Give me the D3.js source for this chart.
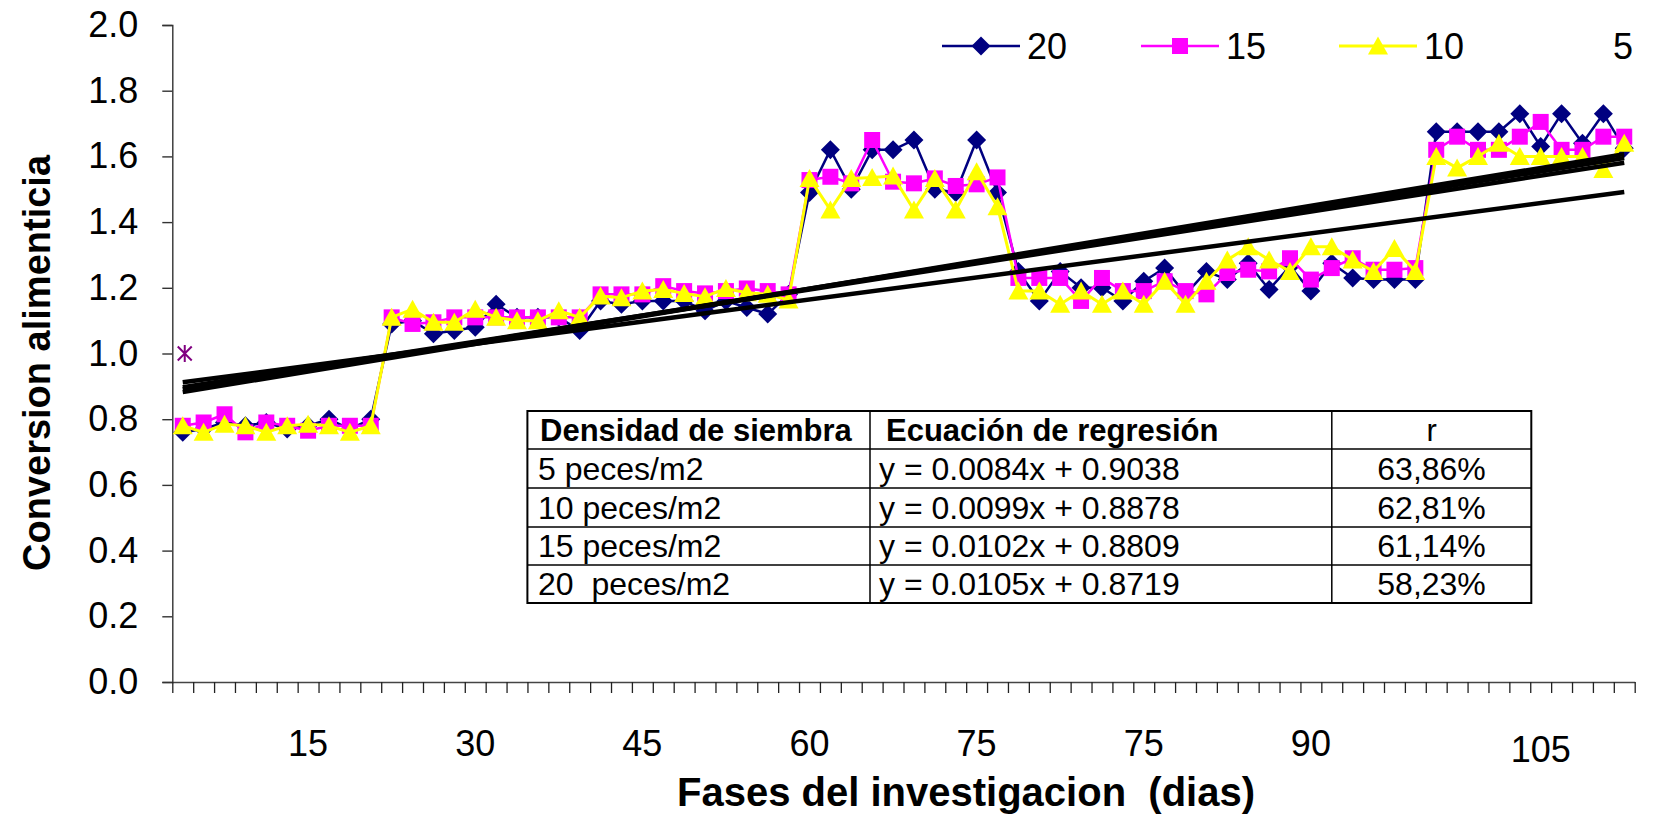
<!DOCTYPE html>
<html>
<head>
<meta charset="utf-8">
<script src="https://cdn.jsdelivr.net/npm/d3@7"></script>
<style>
  html, body { margin: 0; padding: 0; background: #fff; }
  svg { display: block; font-family: "Liberation Sans", Arial, sans-serif; }
  svg text { white-space: pre; }
</style>
</head>
<body>
<svg id="chart" width="1664" height="818"></svg>
<script>
// ---------------- DATA ----------------
const categories = d3.range(1, 71); // 70 measurement points

const seriesNames = ["20", "15", "10", "5"];

const s20 = [
  0.76, 0.77, 0.79, 0.78, 0.79, 0.77, 0.78, 0.80, 0.77, 0.80,
  1.09, 1.10, 1.06, 1.07, 1.08, 1.15, 1.11, 1.11, 1.11, 1.07,
  1.16, 1.15, 1.16, 1.16, 1.16, 1.13, 1.16, 1.14, 1.12, 1.18,
  1.49, 1.62, 1.50, 1.62, 1.62, 1.65, 1.50, 1.49, 1.65, 1.49,
  1.25, 1.16, 1.25, 1.20, 1.20, 1.16, 1.22, 1.26, 1.18, 1.25,
  1.225, 1.275, 1.195, 1.265, 1.19, 1.275, 1.23, 1.225, 1.225, 1.225,
  1.675, 1.675, 1.675, 1.675, 1.73, 1.63, 1.73, 1.64, 1.73, 1.625
];
const s15 = [
  0.78, 0.79, 0.815, 0.76, 0.79, 0.78, 0.765, 0.78, 0.78, 0.78,
  1.11, 1.09, 1.095, 1.11, 1.11, 1.11, 1.11, 1.11, 1.11, 1.11,
  1.18, 1.18, 1.18, 1.205, 1.19, 1.183, 1.19, 1.198, 1.19, 1.18,
  1.528, 1.538, 1.518, 1.65, 1.523, 1.518, 1.533, 1.51, 1.515, 1.536,
  1.23, 1.23, 1.23, 1.16, 1.23, 1.19, 1.19, 1.22, 1.19, 1.18,
  1.245, 1.255, 1.25, 1.29, 1.225, 1.26, 1.29, 1.255, 1.255, 1.26,
  1.62, 1.66, 1.62, 1.62, 1.66, 1.705, 1.62, 1.62, 1.66, 1.66
];
const s10 = [
  0.78, 0.76, 0.785, 0.78, 0.76, 0.78, 0.785, 0.78, 0.76, 0.78,
  1.11, 1.135, 1.095, 1.095, 1.135, 1.11, 1.10, 1.10, 1.13, 1.11,
  1.175, 1.17, 1.19, 1.195, 1.183, 1.173, 1.198, 1.185, 1.18, 1.163,
  1.533, 1.437, 1.533, 1.536, 1.54, 1.437, 1.533, 1.437, 1.553, 1.447,
  1.19, 1.19, 1.15, 1.19, 1.15, 1.19, 1.15, 1.22, 1.15, 1.22,
  1.285, 1.325, 1.285, 1.25, 1.325, 1.325, 1.285, 1.25, 1.32, 1.25,
  1.60, 1.565, 1.60, 1.64, 1.60, 1.60, 1.60, 1.60, 1.56, 1.64
];
const s5Cats = [1];
const s5 = [1.0];

// regression (x = category index)
const regSlopes = [0.0084, 0.0099, 0.0102, 0.0105];
const regIntercepts = [0.9038, 0.8878, 0.8809, 0.8719];

const yTicks = [0, 0.2, 0.4, 0.6, 0.8, 1.0, 1.2, 1.4, 1.6, 1.8, 2.0];
const xLabels = ["15", "30", "45", "60", "75", "75", "90", "105"];
const xLabelCats = [7, 15, 23, 31, 39, 47, 55, 66];

const yTitle = "Conversion alimenticia";
const xTitle = "Fases del investigacion  (dias)";

const tableHeader = ["Densidad de siembra", "Ecuación de regresión", "r"];
const tableDensity = ["5 peces/m2", "10 peces/m2", "15 peces/m2", "20  peces/m2"];
const tableEquation = ["y = 0.0084x + 0.9038", "y = 0.0099x + 0.8878", "y = 0.0102x + 0.8809", "y = 0.0105x + 0.8719"];
const tableR = ["63,86%", "62,81%", "61,14%", "58,23%"];

// ---------------- LAYOUT ----------------
const svg = d3.select("#chart");
const FONT = '"Liberation Sans", Arial, sans-serif';
const plot = { left: 172.3, right: 1634.7, top: 25, bottom: 682 };

const x = d3.scaleLinear().domain([0.5, 70.5]).range([plot.left, plot.right]);
const y = d3.scaleLinear().domain([0, 2]).range([plot.bottom, plot.top]);

// Y axis
const yAxis = d3.axisLeft(y).tickValues(yTicks).tickFormat(d3.format(".1f")).tickSize(10).tickPadding(24);
const gy = svg.append("g").attr("transform", `translate(${plot.left},0)`).call(yAxis);
gy.select(".domain").attr("stroke", "#333").attr("stroke-width", 1.4);
gy.selectAll(".tick line").attr("stroke", "#333").attr("stroke-width", 1.4);
gy.selectAll(".tick text").attr("font-size", 36).attr("font-family", FONT).attr("fill", "#000");

// X axis (category ticks)
const xAxis = d3.axisBottom(x).tickValues(d3.range(0.5, 71, 1)).tickFormat("").tickSize(11).tickSizeOuter(0);
const gx = svg.append("g").attr("transform", `translate(0,${plot.bottom})`).call(xAxis);
gx.select(".domain").attr("stroke", "#444").attr("stroke-width", 1.6);
gx.selectAll(".tick line").attr("stroke", "#222").attr("stroke-width", 1.3);

// X labels (manual text labels)
svg.append("g").selectAll("text").data(xLabels).join("text")
  .attr("x", (d, i) => x(xLabelCats[i]))
  .attr("y", (d, i) => i === xLabels.length - 1 ? 762 : 756)
  .attr("text-anchor", "middle")
  .attr("font-size", 36).attr("font-family", FONT)
  .text(d => d);

// Axis titles
svg.append("text")
  .attr("transform", "translate(37,363) rotate(-90)")
  .attr("text-anchor", "middle").attr("dominant-baseline", "central")
  .attr("font-size", 38).attr("font-weight", "bold").attr("font-family", FONT)
  .text(yTitle);
svg.append("text")
  .attr("x", 966).attr("y", 792)
  .attr("text-anchor", "middle").attr("dominant-baseline", "central")
  .attr("font-size", 40).attr("font-weight", "bold").attr("font-family", FONT)
  .text(xTitle);

// ---------------- SERIES ----------------
const diamondPath = "M0,-9.5L9.5,0L0,9.5L-9.5,0Z";
const squarePath = "M-8,-8H8V8H-8Z";
const trianglePath = "M0,-9.5L10,8.5L-10,8.5Z";
const asteriskPath = "M0,-8.5V8.5M-7,-7L7,7M-7,7L7,-7";

const series = [
  { name: seriesNames[0], values: s20, color: "#000080", lw: 2.5, marker: diamondPath },
  { name: seriesNames[1], values: s15, color: "#FF00FF", lw: 2.5, marker: squarePath },
  { name: seriesNames[2], values: s10, color: "#FFFF00", lw: 3, marker: trianglePath }
];

const line = d3.line().x((d, i) => x(categories[i])).y(d => y(d));

series.forEach(s => {
  const g = svg.append("g");
  g.append("path").datum(s.values)
    .attr("d", line).attr("fill", "none")
    .attr("stroke", s.color).attr("stroke-width", s.lw).attr("stroke-linejoin", "round");
  g.selectAll("path.m").data(s.values).join("path").attr("class", "m")
    .attr("d", s.marker)
    .attr("transform", (d, i) => `translate(${x(categories[i])},${y(d)})`)
    .attr("fill", s.color);
});

// series 5 (only one point, asterisk)
svg.append("g").selectAll("path").data(s5).join("path")
  .attr("d", asteriskPath)
  .attr("transform", (d, i) => `translate(${x(s5Cats[i]) + 2},${y(d)})`)
  .attr("fill", "none").attr("stroke", "#800080").attr("stroke-width", 2);

// Regression lines
svg.append("g").selectAll("line").data(regSlopes).join("line")
  .attr("x1", x(categories[0])).attr("x2", x(categories[categories.length - 1]))
  .attr("y1", (d, i) => y(d * categories[0] + regIntercepts[i]))
  .attr("y2", (d, i) => y(d * categories[categories.length - 1] + regIntercepts[i]))
  .attr("stroke", "#000").attr("stroke-width", 4.5);

// ---------------- LEGEND ----------------
const legendItems = [
  { name: seriesNames[0], color: "#000080", lw: 2.5, marker: diamondPath, x0: 942 },
  { name: seriesNames[1], color: "#FF00FF", lw: 2.5, marker: squarePath, x0: 1141 },
  { name: seriesNames[2], color: "#FFFF00", lw: 3, marker: trianglePath, x0: 1339 },
  { name: seriesNames[3], color: "none", lw: 0, marker: null, x0: 1528 }
];
const lg = svg.append("g");
legendItems.forEach(it => {
  const ly = 46;
  if (it.marker) {
    lg.append("line").attr("x1", it.x0).attr("x2", it.x0 + 78).attr("y1", ly).attr("y2", ly)
      .attr("stroke", it.color).attr("stroke-width", it.lw);
    lg.append("path").attr("d", it.marker).attr("transform", `translate(${it.x0 + 39},${ly})`).attr("fill", it.color);
  }
  lg.append("text").attr("x", it.x0 + 85).attr("y", ly + 13)
    .attr("font-size", 36).attr("font-family", FONT).text(it.name);
});

// ---------------- TABLE ----------------
const tb = { cols: [527.4, 870, 1331.8, 1531.3], rows: [411, 449, 488, 527, 565, 603] };
const tg = svg.append("g");
tg.append("rect").attr("x", tb.cols[0]).attr("y", tb.rows[0])
  .attr("width", tb.cols[3] - tb.cols[0]).attr("height", tb.rows[5] - tb.rows[0])
  .attr("fill", "#fff").attr("stroke", "#000").attr("stroke-width", 2);
tb.rows.slice(1, 5).forEach(r => tg.append("line").attr("x1", tb.cols[0]).attr("x2", tb.cols[3])
  .attr("y1", r).attr("y2", r).attr("stroke", "#000").attr("stroke-width", 1.5));
tb.cols.slice(1, 3).forEach(c => tg.append("line").attr("x1", c).attr("x2", c)
  .attr("y1", tb.rows[0]).attr("y2", tb.rows[5]).attr("stroke", "#000").attr("stroke-width", 1.5));

const rowMid = i => (tb.rows[i] + tb.rows[i + 1]) / 2;
tg.append("text").attr("x", 540).attr("y", rowMid(0) + 11).attr("font-size", 31).attr("font-weight", "bold").attr("font-family", FONT).text(tableHeader[0]);
tg.append("text").attr("x", 886).attr("y", rowMid(0) + 11).attr("font-size", 31).attr("font-weight", "bold").attr("font-family", FONT).text(tableHeader[1]);
tg.append("text").attr("x", (tb.cols[2] + tb.cols[3]) / 2).attr("y", rowMid(0) + 11).attr("text-anchor", "middle").attr("font-size", 31).attr("font-family", FONT).text(tableHeader[2]);

tableDensity.forEach((t, i) => {
  const yy = rowMid(i + 1) + 11;
  tg.append("text").attr("x", 538).attr("y", yy).attr("font-size", 32).attr("font-family", FONT).text(t);
  tg.append("text").attr("x", 879).attr("y", yy).attr("font-size", 32).attr("font-family", FONT).text(tableEquation[i]);
  tg.append("text").attr("x", (tb.cols[2] + tb.cols[3]) / 2).attr("y", yy).attr("text-anchor", "middle")
    .attr("font-size", 32).attr("font-family", FONT).text(tableR[i]);
});
</script>
</body>
</html>
